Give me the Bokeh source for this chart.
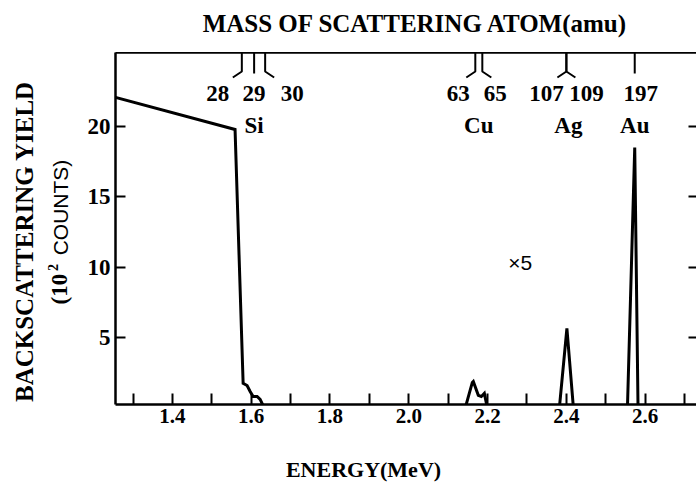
from math import pi

from bokeh.core.properties import value
from bokeh.embed import file_html
from bokeh.layouts import column, row
from bokeh.models import ColumnDataSource, FixedTicker, Label, LinearAxis, PrintfTickFormatter
from bokeh.plotting import figure
from bokeh.resources import INLINE

# Backscattering spectrum: energy (MeV) vs yield (10^2 counts)
energy_mev = [1.25, 1.559, 1.5795, 1.5896, 1.5973, 1.6049, 1.615, 1.6227, 1.6328,
              2.1435, 2.1613, 2.1638, 2.1765, 2.1841, 2.1918, 2.1994,
              2.3823, 2.4014, 2.4179,
              2.5551, 2.5736, 2.582, 2.75]
yield_counts = [22.1, 19.78, 1.73, 1.58, 1.16, 0.80, 0.80, 0.59, 0.0,
                0.0, 1.80, 1.87, 0.88, 0.80, 1.02, 0.0,
                0.0, 5.64, 0.0,
                0.0, 18.5, 0.0, 0.0]

# Surface-scattering energies of the isotopes (mass scale along the top)
isotope_mass = ["28", "29", "30", "63", "65", "107", "109", "197"]
isotope_energy = [1.5762, 1.6074, 1.6354, 2.1689, 2.1867, 2.4001, 2.4001, 2.5736]
isotope_side = [-1, 0, 1, -1, 1, -1, 1, 0]

element_name = ["Si", "Cu", "Ag", "Au"]
element_energy = [1.6074, 2.1778, 2.4001, 2.5736]

x_major = [1.4, 1.6, 1.8, 2.0, 2.2, 2.4, 2.6]
x_minor = [1.3, 1.5, 1.7, 1.9, 2.1, 2.3, 2.5, 2.7]
y_major = [5, 10, 15, 20]

SERIF = "Liberation Serif"
SANS = "Liberation Sans"
INK = "black"

X0, X1 = 1.2555, 2.7304
Y0, Y1 = 0.23, 25.25

# page geometry (pixels)
W, H = 696, 484
TOP_H, BOTTOM_H = 52, 52
SIDE_W = 75
MAIN_W, MAIN_H = W - SIDE_W, H - TOP_H - BOTTOM_H
AXIS_L, AXIS_B = 40, 28


def text_panel(width, height, x_range, y_range):
    f = figure(width=width, height=height, x_range=x_range, y_range=y_range,
               output_backend="svg", toolbar_location=None,
               x_axis_location=None, y_axis_location=None,
               min_border=0, min_border_left=0, min_border_right=0,
               min_border_top=0, min_border_bottom=0)
    f.grid.visible = False
    f.outline_line_color = None
    f.background_fill_color = "white"
    f.border_fill_color = "white"
    return f


def put_text(f, x, y, text, size, font=SERIF, style="bold", angle=0.0,
             align="center"):
    f.text(x=[x], y=[y], text=[text], angle=angle,
           text_font=value(font), text_font_style=style,
           text_font_size=f"{size}px", text_align=align,
           text_baseline="middle", text_color=INK)


# title strip, side strip for the y label, strip for the x label
top = text_panel(W, TOP_H, (0, W), (TOP_H, 0))
put_text(top, 415, 23, "MASS OF SCATTERING ATOM(amu)", 25)

side = text_panel(SIDE_W, MAIN_H, (0, SIDE_W), (TOP_H + MAIN_H, TOP_H))
put_text(side, 24, 256, "BACKSCATTERING YIELD", 25, angle=pi / 2)
put_text(side, 59, 324, "(10", 23, angle=pi / 2, align="left")
put_text(side, 52, 288, "2", 14, angle=pi / 2, align="left")
put_text(side, 60, 271, "COUNTS)", 21, font=SANS, style="normal",
         angle=pi / 2, align="left")

bottom = text_panel(W, BOTTOM_H, (0, W), (H, H - BOTTOM_H))
put_text(bottom, 363, 469, "ENERGY(MeV)", 22)

# main plot
p = figure(width=MAIN_W, height=MAIN_H, x_range=(X0, X1), y_range=(Y0, Y1),
           output_backend="svg", toolbar_location=None,
           x_axis_location=None, y_axis_location=None,
           min_border_left=AXIS_L, min_border_right=0,
           min_border_top=0, min_border_bottom=AXIS_B)
p.grid.visible = False
p.outline_line_color = None
p.background_fill_color = "white"
p.border_fill_color = "white"

# pixel -> data conversion for the small tick decorations
dx_px = (X1 - X0) / (MAIN_W - AXIS_L)
dy_px = (Y1 - Y0) / (MAIN_H - AXIS_B)

xaxis = LinearAxis(ticker=FixedTicker(ticks=x_major, minor_ticks=x_minor),
                   formatter=PrintfTickFormatter(format="%.1f"))
xaxis.major_tick_in = 11
xaxis.major_tick_out = 0
xaxis.minor_tick_in = 11
xaxis.minor_tick_out = 0
xaxis.major_tick_line_width = 2
xaxis.minor_tick_line_width = 2
xaxis.axis_line_width = 2.5
xaxis.major_label_text_font = SERIF
xaxis.major_label_text_font_style = "bold"
xaxis.major_label_text_font_size = "21px"
xaxis.major_label_text_color = INK
xaxis.major_label_standoff = 4
p.add_layout(xaxis, "below")

yaxis = LinearAxis(ticker=FixedTicker(ticks=y_major, minor_ticks=[]))
yaxis.major_tick_in = 10
yaxis.major_tick_out = 0
yaxis.minor_tick_in = 0
yaxis.minor_tick_out = 0
yaxis.major_tick_line_width = 2
yaxis.axis_line_width = 2.5
yaxis.major_label_text_font = SERIF
yaxis.major_label_text_font_style = "bold"
yaxis.major_label_text_font_size = "23px"
yaxis.major_label_text_color = INK
yaxis.major_label_standoff = 5
p.add_layout(yaxis, "left")

top_axis = LinearAxis(ticker=FixedTicker(ticks=[], minor_ticks=[]))
top_axis.major_tick_in = 0
top_axis.major_tick_out = 0
top_axis.minor_tick_in = 0
top_axis.minor_tick_out = 0
top_axis.axis_line_width = 2.5
top_axis.major_label_text_font_size = "0px"
top_axis.major_label_standoff = 0
p.add_layout(top_axis, "above")

right_axis = LinearAxis(ticker=FixedTicker(ticks=y_major, minor_ticks=[]))
right_axis.major_tick_in = 8
right_axis.major_tick_out = 0
right_axis.minor_tick_in = 0
right_axis.minor_tick_out = 0
right_axis.major_tick_line_width = 2
right_axis.axis_line_color = None
right_axis.major_label_text_font_size = "0px"
right_axis.major_label_standoff = 0
right_axis.major_label_overrides = {t: "" for t in y_major}
p.add_layout(right_axis, "right")

# spectrum
p.line(energy_mev, yield_counts, line_color=INK, line_width=3, line_join="miter")

# isotope markers hanging from the top axis
marker_xs, marker_ys = [], []
for e, side_dir in zip(isotope_energy, isotope_side):
    if side_dir == 0:
        marker_xs.append([e, e])
        marker_ys.append([Y1, Y1 - 21 * dy_px])
    else:
        marker_xs.append([e, e, e + side_dir * 9 * dx_px])
        marker_ys.append([Y1, Y1 - 19 * dy_px, Y1 - 25 * dy_px])
p.multi_line(marker_xs, marker_ys, line_color=INK, line_width=2)

mass_src = ColumnDataSource(dict(
    x=isotope_energy,
    y=[Y1 - 41 * dy_px] * len(isotope_energy),
    text=isotope_mass,
    dx=[-24, 0, 27, -17, 13, -20, 20, 6],
))
p.text(x="x", y="y", text="text", x_offset="dx", source=mass_src,
       text_font=value(SERIF), text_font_style="bold", text_font_size="23px",
       text_align="center", text_baseline="middle", text_color=INK)

elem_src = ColumnDataSource(dict(
    x=element_energy,
    y=[Y1 - 73 * dy_px] * len(element_energy),
    text=element_name,
    dx=[0, 0, 2, 0],
))
p.text(x="x", y="y", text="text", x_offset="dx", source=elem_src,
       text_font=value(SERIF), text_font_style="bold", text_font_size="23px",
       text_align="center", text_baseline="middle", text_color=INK)

p.add_layout(Label(x=2.283, y=10.33, text="×5", text_font=SANS,
                   text_font_size="21px", text_align="center",
                   text_baseline="middle", text_color=INK))

layout = column(top, row(side, p), bottom)
open("out.html", "w").write(file_html(layout, INLINE))
